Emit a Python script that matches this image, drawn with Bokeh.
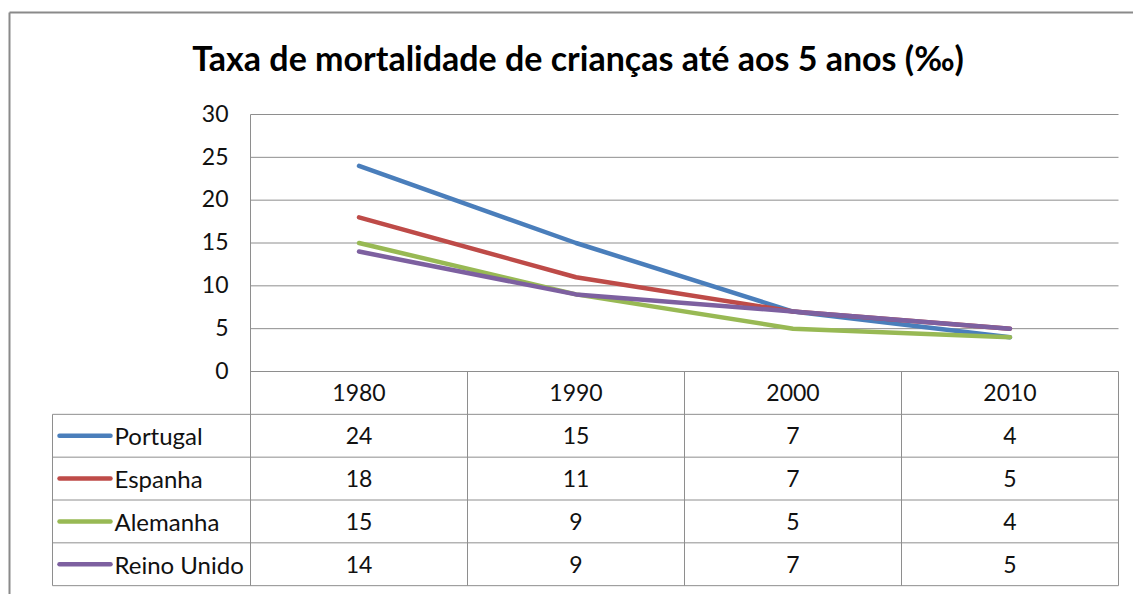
from bokeh.plotting import figure
from bokeh.models import Range1d
from bokeh.core.properties import value
from bokeh.embed import file_html
from bokeh.resources import INLINE

# ---- data ----
years = ["1980", "1990", "2000", "2010"]
countries = ["Portugal", "Espanha", "Alemanha", "Reino Unido"]
portugal = [24, 15, 7, 4]
espanha = [18, 11, 7, 5]
alemanha = [15, 9, 5, 4]
reino_unido = [14, 9, 7, 5]
series = [portugal, espanha, alemanha, reino_unido]
colors = ["#4A7EBB", "#BE4B48", "#98B954", "#7D60A0"]
y_ticks = [0, 5, 10, 15, 20, 25, 30]
title = "Taxa de mortalidade de crianças até aos 5 anos (‰)"

FONT = "Lato"
W, H = 1133, 594
ORG = 0  # page offset of the canvas
# layout (page pixels -> data units)
PX_LEFT, PX_CAT = 250.0, 217.0           # plot-area left edge, width of one category
PX_ZERO, PX_PER_UNIT = 371.0, 257.0 / 30  # y=0 pixel, pixels per value unit
def xu(px):
    return (px - PX_LEFT) / PX_CAT
def yu(py):
    return (PX_ZERO - py) / PX_PER_UNIT

p = figure(width=W, height=H, output_backend="svg", toolbar_location=None,
           x_range=Range1d(xu(ORG), xu(ORG + W)), y_range=Range1d(yu(ORG + H), yu(ORG)),
           min_border=0, outline_line_color=None)
p.axis.visible = False
p.grid.visible = False
p.background_fill_color = "white"
p.border_fill_color = "white"

GRID = "#8e8e8e"
ncat = len(years)
nrow = len(countries)
row_h = 5  # table row height in value units (same as grid step)
table_bottom = -row_h * (nrow + 1)

# outer chart frame
p.segment(x0=[xu(9), xu(9)], y0=[yu(12), yu(12)], x1=[xu(9), xu(ORG + W + 10)], y1=[yu(ORG + H + 10), yu(12)],
          line_color="#8a8a8a", line_width=2)

# horizontal gridlines
gy = [t for t in y_ticks if t > 0]
p.segment(x0=[0] * len(gy), y0=gy, x1=[ncat] * len(gy), y1=gy, line_color=GRID, line_width=1)

# table lines
leg_left = xu(52)
hy = [0] + [-row_h * (r + 1) for r in range(nrow + 1)]
hx0 = [0] + [leg_left] * (nrow + 1)
p.segment(x0=hx0, y0=hy, x1=[ncat] * len(hy), y1=hy, line_color=GRID, line_width=1)
vx = list(range(ncat + 1))
vtop = [max(y_ticks)] + [0] * ncat
p.segment(x0=vx, y0=vtop, x1=vx, y1=[table_bottom] * len(vx), line_color=GRID, line_width=1)
p.segment(x0=[leg_left], y0=[-row_h], x1=[leg_left], y1=[table_bottom], line_color=GRID, line_width=1)

# y tick labels
p.text(x=[xu(228)] * len(y_ticks), y=[t + 0.15 for t in y_ticks], text=[str(t) for t in y_ticks],
       text_align="right", text_baseline="middle", text_font=value(FONT),
       text_font_size="23px", text_color="#111111")

# data lines
cx = [i + 0.5 for i in range(ncat)]
for vals, col in zip(series, colors):
    p.line(cx, vals, line_color=col, line_width=4.5, line_join="round", line_cap="round")

# header years
p.text(x=cx, y=[-row_h / 2] * ncat, text=years, text_align="center", text_baseline="middle",
       text_font=value(FONT), text_font_size="23px", text_color="#111111")

# table rows
for r, (name, vals, col) in enumerate(zip(countries, series, colors)):
    yc = -row_h * (r + 1) - row_h / 2
    p.text(x=cx, y=[yc] * ncat, text=[str(v) for v in vals], text_align="center",
           text_baseline="middle", text_font=value(FONT), text_font_size="23px", text_color="#111111")
    p.line([xu(59), xu(110)], [yc, yc], line_color=col, line_width=4.5, line_cap="round")
    p.text(x=[xu(114)], y=[yc], text=[name], text_align="left", text_baseline="middle",
           text_font=value(FONT), text_font_size="24px", text_color="#111111")

# title
p.text(x=[xu(577.5)], y=[yu(57)], text=[title], text_align="center", text_baseline="middle",
       text_font=value(FONT), text_font_style="bold", text_font_size="34px", text_color="#000000")

open("out.html", "w").write(file_html(p, INLINE))
